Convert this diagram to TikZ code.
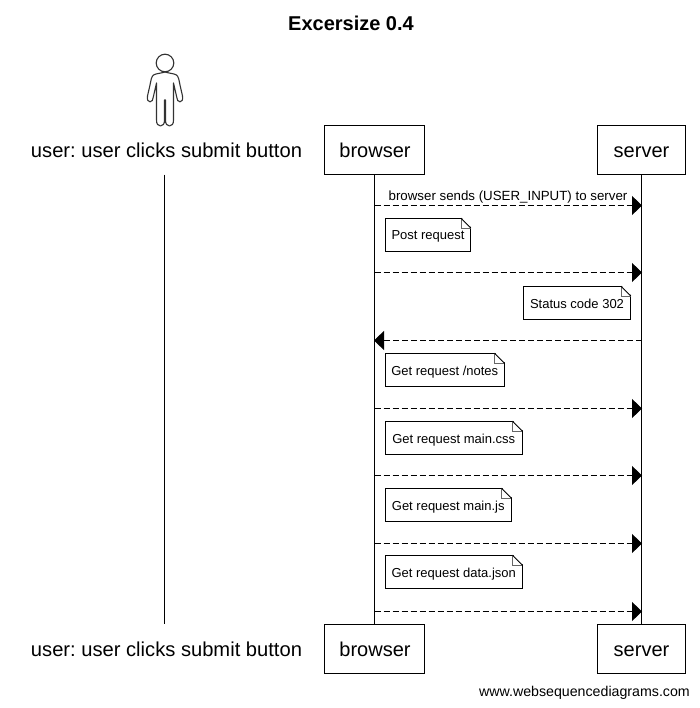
\documentclass[tikz,border=0pt]{standalone}
\usepackage{fontspec}
\setmainfont{Liberation Sans}
\usetikzlibrary{calc,arrows.meta}
\frenchspacing
\tikzset{
	actorbox/.style={draw, line width=1pt, minimum height=49pt, inner sep=0pt, text height=15pt, text depth=0pt, font=\fontsize{20}{24}\selectfont},
	actorname/.style={minimum height=49pt, inner sep=0pt, text height=15pt, text depth=0pt, font=\fontsize{20.15}{24}\selectfont},
	lifeline/.style={line width=1pt},
	msgline/.style={line width=1pt, dash pattern=on 6pt off 3pt, -{Triangle[length=10pt,width=19pt]}, shorten >=-0.5pt},
	msgtext/.style={inner sep=0pt, font=\fontsize{13.3}{15}\selectfont},
	notetext/.style={draw, line width=0.8pt, anchor=north west, inner xsep=0pt, inner ysep=10pt, text height=11.5pt, text depth=1.5pt, font=\fontsize{13}{15}\selectfont},
	foldline/.style={line width=0.8pt, color=black!60},
}
\def\notebox(#1)(#2)[#3]#4{
	\node[notetext, minimum width=#3] (#1) at (#2) {#4};
	\fill[white] ($(#1.north east)+(-10pt,1pt)$) -- ($(#1.north east)+(1pt,1pt)$) -- ($(#1.north east)+(1pt,-10pt)$) -- cycle;
	\draw[foldline] ($(#1.north east)+(-10pt,0)$) |- ($(#1.north east)+(0,-10pt)$);
	\draw[line width=0.8pt] ($(#1.north east)+(-10pt,0)$) -- ($(#1.north east)+(0,-10pt)$);
}

\begin{document}
\begin{tikzpicture}[x=1pt, y=-1pt]
	\useasboundingbox (0, 0) rectangle (699, 708);

	% title and footer
	\node[font=\fontsize{20}{24}\selectfont\bfseries] (title) at (351, 23) {Excersize 0.4};
	\node[anchor=east, inner sep=0pt, font=\fontsize{14.2}{16}\selectfont] (footer) at (690, 693) {www.websequencediagrams.com};

	% actors, top row
	\node[actorname] (usertop) at (166.5, 150) {user: user clicks submit button};
	\node[actorbox, minimum width=100pt] (browsertop) at (374.5, 150) {\hspace{1pt}browser};
	\node[actorbox, minimum width=88pt] (servertop) at (641.5, 150) {server};

	% actors, bottom row
	\node[actorname] (userbot) at (166.5, 649) {user: user clicks submit button};
	\node[actorbox, minimum width=100pt] (browserbot) at (374.5, 649) {\hspace{1pt}browser};
	\node[actorbox, minimum width=88pt] (serverbot) at (641.5, 649) {server};

	% stick figure
	\draw[line width=1.1pt, color=black!80] (165, 63) circle (8.8);
	\draw[line width=1.1pt, color=black!80, line join=round] (165, 72) .. controls (160, 73.5) and (156, 73.5) .. (153.5, 75)
		.. controls (151.5, 76.5) and (151, 80) .. (150, 85) -- (147.5, 96)
		.. controls (147, 100) and (148, 101.8) .. (150, 101.8)
		.. controls (152, 101.8) and (153, 100) .. (153.3, 97) -- (156.5, 83) -- (156.5, 120)
		.. controls (156.5, 124) and (158, 126) .. (160.5, 126)
		.. controls (163, 126) and (164.5, 124) .. (164.5, 120) -- (164.5, 100) -- (165.5, 100) -- (165.5, 120)
		.. controls (165.5, 124) and (167, 126) .. (169.5, 126)
		.. controls (172, 126) and (173.5, 124) .. (173.5, 120) -- (173.5, 83) -- (176.7, 97)
		.. controls (177, 100) and (178, 101.8) .. (180, 101.8)
		.. controls (182, 101.8) and (183, 100) .. (182.5, 96) -- (180, 85)
		.. controls (179, 80) and (178.5, 76.5) .. (176.5, 75)
		.. controls (174, 73.5) and (170, 73.5) .. (165, 72);

	% lifelines
	\draw[lifeline] ($(usertop.south)+(-2, 0)$) -- ($(userbot.north)+(-2, 0)$);
	\draw[lifeline] (browsertop) -- (browserbot);
	\draw[lifeline] (servertop) -- (serverbot);

	% rows of the messages
	\coordinate (row1) at (0, 205.5);
	\coordinate (row2) at (0, 272.5);
	\coordinate (row3) at (0, 340.5);
	\coordinate (row4) at (0, 408.5);
	\coordinate (row5) at (0, 475.5);
	\coordinate (row6) at (0, 543.5);
	\coordinate (row7) at (0, 611.5);

	\draw[msgline] (browsertop |- row1) -- node[msgtext, above=1.5pt] (msglabel) {browser sends (USER\_INPUT) to server} (servertop |- row1);
	\notebox(notepost)(385.1, 218.1)[85pt]{Post request}
	\draw[msgline] (browsertop |- row2) -- (servertop |- row2);
	\notebox(notestatus)(523.1, 286.1)[107pt]{Status code 302}
	\draw[msgline] (servertop |- row3) -- (browsertop |- row3);
	\notebox(notenotes)(385.1, 353.1)[118.5pt]{Get request /notes}
	\draw[msgline] (browsertop |- row4) -- (servertop |- row4);
	\notebox(notecss)(385.1, 421.1)[136.5pt]{Get request main.css}
	\draw[msgline] (browsertop |- row5) -- (servertop |- row5);
	\notebox(notejs)(385.1, 488.1)[125.5pt]{Get request main.js}
	\draw[msgline] (browsertop |- row6) -- (servertop |- row6);
	\notebox(notedata)(385.1, 555.1)[136.5pt]{Get request data.json}
	\draw[msgline] (browsertop |- row7) -- (servertop |- row7);
\end{tikzpicture}
\end{document}
